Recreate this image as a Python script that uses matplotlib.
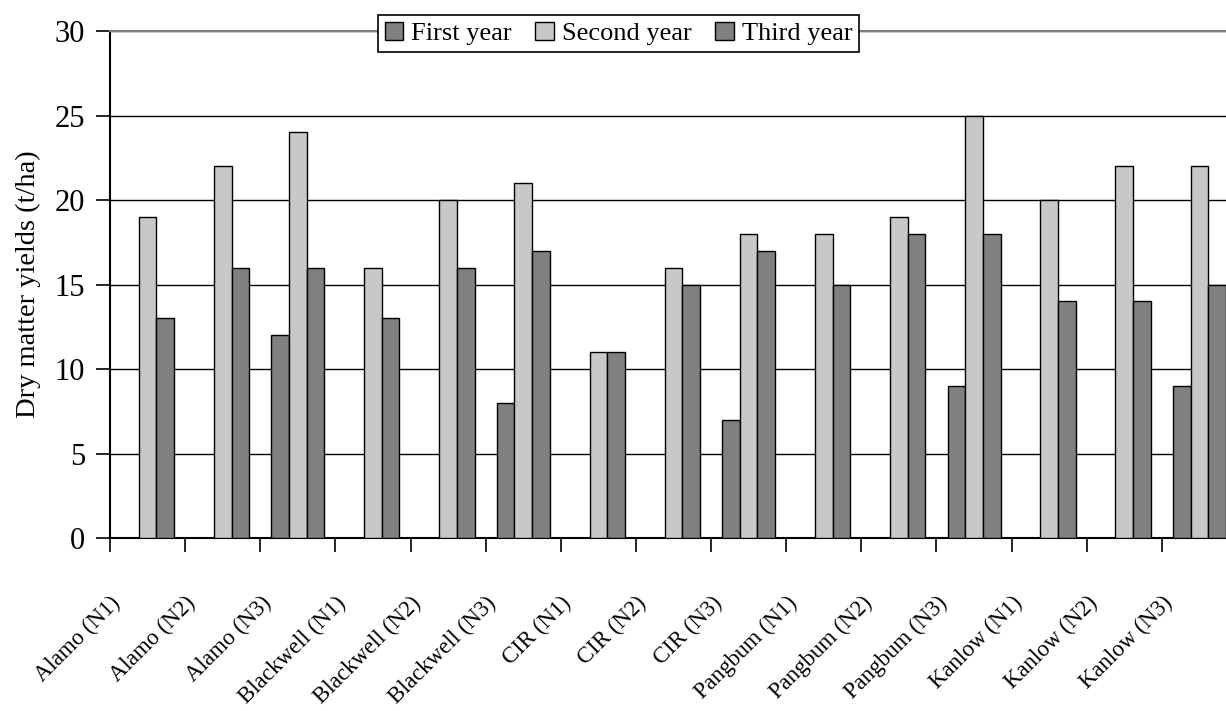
import matplotlib
matplotlib.use("Agg")
import matplotlib.pyplot as plt
import matplotlib.transforms as mtransforms
import numpy as np

categories = ["Alamo (N1)", "Alamo (N2)", "Alamo (N3)",
              "Blackwell (N1)", "Blackwell (N2)", "Blackwell (N3)",
              "CIR (N1)", "CIR (N2)", "CIR (N3)",
              "Pangbum (N1)", "Pangbum (N2)", "Pangbum (N3)",
              "Kanlow (N1)", "Kanlow (N2)", "Kanlow (N3)"]
first_year = [0, 0, 12, 0, 0, 8, 0, 0, 7, 0, 0, 9, 0, 0, 9]
second_year = [19, 22, 24, 16, 20, 21, 11, 16, 18, 18, 19, 25, 20, 22, 22]
third_year = [13, 16, 16, 13, 16, 17, 11, 15, 17, 15, 18, 18, 14, 14, 15]
series_names = ["First year", "Second year", "Third year"]
y_ticks = [0, 5, 10, 15, 20, 25, 30]

plt.rcParams['font.family'] = ['Liberation Serif', 'DejaVu Serif']

W, H = 1226, 711
fig = plt.figure(figsize=(W / 100, H / 100), dpi=100)
left, right, top, bottom = 110, 1237, 31, 538
ax = fig.add_axes([left / W, 1 - bottom / H, (right - left) / W, (bottom - top) / H])

n = len(categories)
x = np.arange(n) + 0.5
bw = 0.235
colors = ["#808080", "#c8c8c8", "#808080"]
for i, (vals, name, c) in enumerate(zip([first_year, second_year, third_year], series_names, colors)):
    ax.bar(x + (i - 1) * bw, vals, width=bw, color=c, edgecolor="black", linewidth=1.0,
           label=name, zorder=3)

ax.set_xlim(0, n)
ax.set_ylim(0, 30)
ax.set_yticks(y_ticks)
ax.yaxis.grid(True, color="black", linewidth=1.0, zorder=0)
ax.set_axisbelow(True)

ax.set_xticks(np.arange(n + 1))
ax.set_xticklabels([])
ax.tick_params(axis="x", which="major", length=10, width=1.2, direction="out")
ax.tick_params(axis="y", length=10, width=1.2, direction="out", labelsize=22, pad=8)

# category labels, rotated, placed below the axis
base = mtransforms.blended_transform_factory(ax.transData, ax.transAxes)
offset = mtransforms.ScaledTranslation(-30 / 100, -62 / 100, fig.dpi_scale_trans)
for xi, lab in zip(x, categories):
    ax.text(xi, 0, lab, transform=base + offset, rotation=45, ha="right", va="center",
            rotation_mode="anchor", fontsize=16.5, clip_on=False)

for s in ["left", "bottom"]:
    ax.spines[s].set_color("black")
    ax.spines[s].set_linewidth(1.5)
ax.spines["top"].set_color("#808080")
ax.spines["top"].set_linewidth(1.5)
ax.spines["right"].set_color("#808080")

ax.set_ylabel("Dry matter yields (t/ha)", fontsize=20.5, labelpad=10)

leg = ax.legend(loc="upper left", bbox_to_anchor=(378 / W, 1 - 15 / H), bbox_transform=fig.transFigure,
                ncol=3, fontsize=19, frameon=True, fancybox=False, framealpha=1,
                edgecolor="black", handlelength=0.7, handleheight=0.7, handletextpad=0.3,
                columnspacing=0.9, borderpad=0.25, borderaxespad=0)
leg.get_frame().set_linewidth(1.2)

fig.savefig("out.png", dpi=100)
